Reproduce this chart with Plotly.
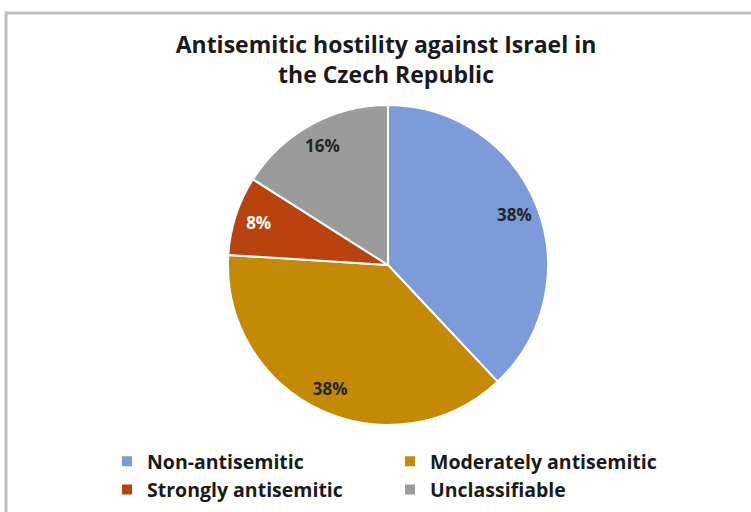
import plotly.graph_objects as go

W, H = 751, 512

labels = ['Non-antisemitic', 'Moderately antisemitic', 'Strongly antisemitic', 'Unclassifiable']
values = [38, 38, 8, 16]
colors = ['#7D9BD8', '#C48A06', '#B9430F', '#9B9B9B']
text_colors = ['#262626', '#262626', '#FFFFFF', '#262626']

FONT = 'Open Sans'


def px_x(x):
    return x / W


def px_y(y):
    return 1 - y / H


pie_domain = dict(x=[px_x(228), px_x(548)], y=[px_y(425), px_y(105)])

fig = go.Figure()
# 饼图本体（无文字）
fig.add_trace(go.Pie(
    labels=labels, values=values,
    sort=False, direction='clockwise', rotation=0,
    marker=dict(colors=colors, line=dict(color='white', width=2)),
    textinfo='none',
    domain=pie_domain,
    hoverinfo='label+percent',
))
# 透明环形层，只用来把百分比标签放到外圈
fig.add_trace(go.Pie(
    labels=labels, values=values,
    sort=False, direction='clockwise', rotation=0, hole=0.7,
    marker=dict(colors=['rgba(0,0,0,0)'] * len(values), line=dict(width=0)),
    texttemplate='%{value}%',
    textposition='inside', insidetextorientation='horizontal',
    textfont=dict(family=FONT, size=17, color=text_colors, weight='bold'),
    domain=pie_domain,
    showlegend=False, hoverinfo='skip',
))

# 图表外框
fig.add_shape(type='rect', xref='paper', yref='paper',
              x0=px_x(6), x1=px_x(770), y0=px_y(540), y1=px_y(13),
              line=dict(color='#C0C0C0', width=3), layer='below')

fig.update_layout(
    width=W, height=H,
    margin=dict(l=0, r=0, t=0, b=0),
    paper_bgcolor='white', plot_bgcolor='white',
    title=dict(text='Antisemitic hostility against Israel in<br>the Czech Republic',
               x=px_x(386), xanchor='center', y=px_y(53), yanchor='top',
               font=dict(family=FONT, size=23, color='#1A1A1A', weight='bold')),
    legend=dict(orientation='h', x=px_x(107), xanchor='left', y=px_y(442), yanchor='top',
                entrywidth=238, entrywidthmode='pixels', traceorder='normal',
                font=dict(family=FONT, size=19.5, color='#1A1A1A', weight='bold')),
)

fig.write_html("out.html", config={'displayModeBar': False},
               post_script="document.body.style.margin='0';")
